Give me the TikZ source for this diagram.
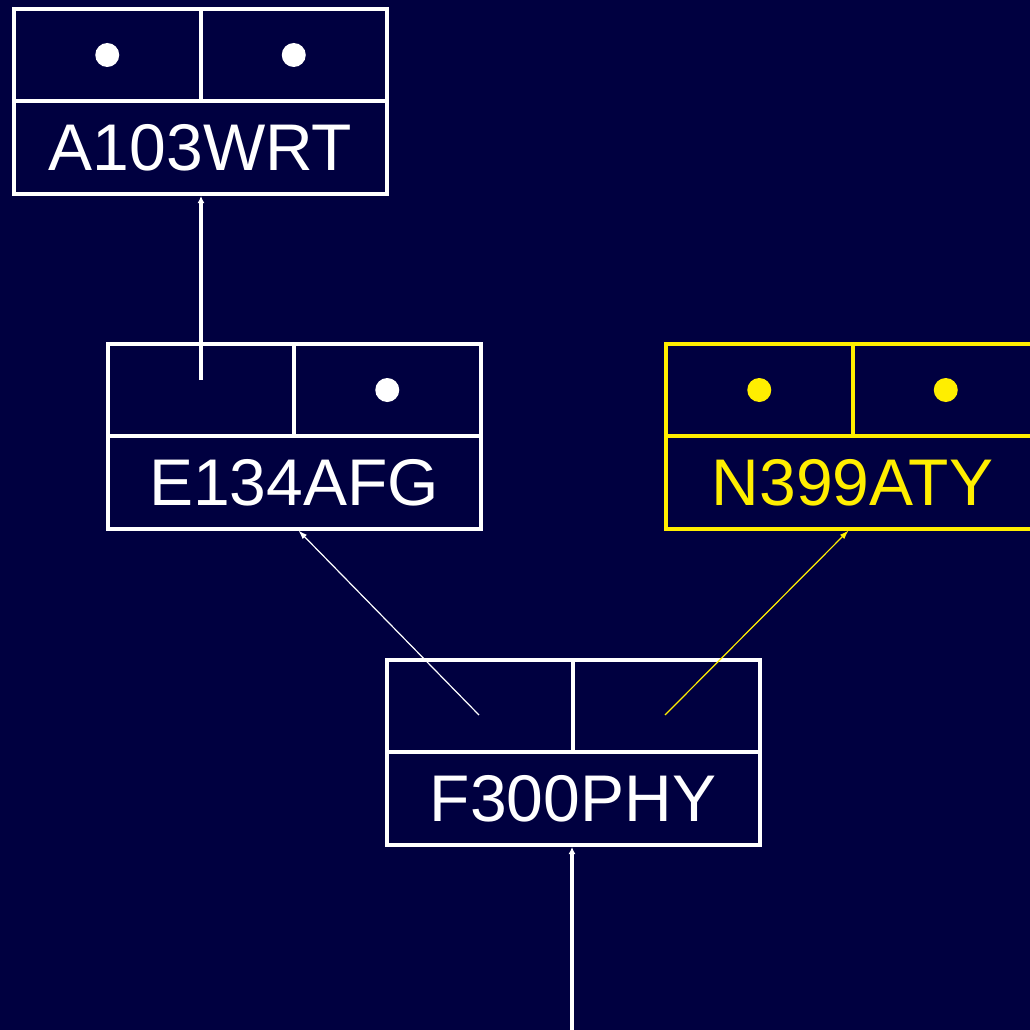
\documentclass[tikz,border=0pt]{standalone}
\usepackage{fontspec}
\setmainfont{Liberation Sans}
\usetikzlibrary{arrows.meta}
\definecolor{navy}{RGB}{0,0,64}
\definecolor{ptryellow}{RGB}{255,238,0}

\begin{document}
\begin{tikzpicture}[
      x=1pt, y=-1pt,
      base/.style={draw=white, line width=4pt, outer sep=0pt, inner sep=0pt, text=white},
      namebox/.style={base, minimum width=373pt, minimum height=93pt, font=\fontsize{66}{70}\selectfont},
      cell/.style={base, minimum width=186.5pt, minimum height=92pt},
      dot/.style={circle, fill=white, minimum size=24pt, inner sep=0pt},
      hl/.style={draw=ptryellow, text=ptryellow},
      ptr/.style={-{Latex[length=7pt,width=7pt]}, line width=4pt, draw=white, shorten >=2pt},
      thinptr/.style={-{Latex[length=9pt,width=6pt]}, line width=1.2pt, draw=white, shorten >=2pt}
    ]

    % ---- background ----
    \useasboundingbox (0,0) rectangle (1030,1030);
    \fill[navy] (0,0) rectangle (1030,1030);
    \clip (0,0) rectangle (1030,1030);

    % ---- A103WRT ----
    \node[namebox] (wrt) at (200.5,147.5) {A103WRT};
    \node[cell, anchor=south west] (wrt-l) at (wrt.north west) {};
    \node[cell, anchor=south east] (wrt-r) at (wrt.north east) {};
    \node[dot] (wrt-ldot) at (wrt-l) {};
    \node[dot] (wrt-rdot) at (wrt-r) {};

    % ---- E134AFG ----
    \node[namebox] (afg) at (294,482.5) {E134AFG};
    \node[cell, anchor=south west] (afg-l) at (afg.north west) {};
    \node[cell, anchor=south east] (afg-r) at (afg.north east) {};
    \node[dot] (afg-rdot) at (afg-r) {};

    % ---- N399ATY (highlighted) ----
    \node[namebox, hl] (aty) at (852.5,482.5) {N399ATY};
    \node[cell, hl, anchor=south west] (aty-l) at (aty.north west) {};
    \node[cell, hl, anchor=south east] (aty-r) at (aty.north east) {};
    \node[dot, fill=ptryellow] (aty-ldot) at (aty-l) {};
    \node[dot, fill=ptryellow] (aty-rdot) at (aty-r) {};

    % ---- F300PHY ----
    \node[namebox] (phy) at (573,798.5) {F300PHY};
    \node[cell, anchor=south west] (phy-l) at (phy.north west) {};
    \node[cell, anchor=south east] (phy-r) at (phy.north east) {};

    % ---- pointers ----
    \coordinate (afg-lp) at (201,380);
    \coordinate (phy-lp) at (479,715);
    \coordinate (phy-rp) at (665,715);
    \coordinate (root) at (572,1030);

    \draw[ptr] (afg-lp) -- (afg-lp |- wrt.south);
    \draw[thinptr] (phy-lp) -- ([xshift=3pt]afg.south);
    \draw[thinptr, draw=ptryellow] (phy-rp) -- ([xshift=-2.5pt]aty.south);
    \draw[ptr] (root) -- (root |- phy.south);

    \end{tikzpicture}
\end{document}
